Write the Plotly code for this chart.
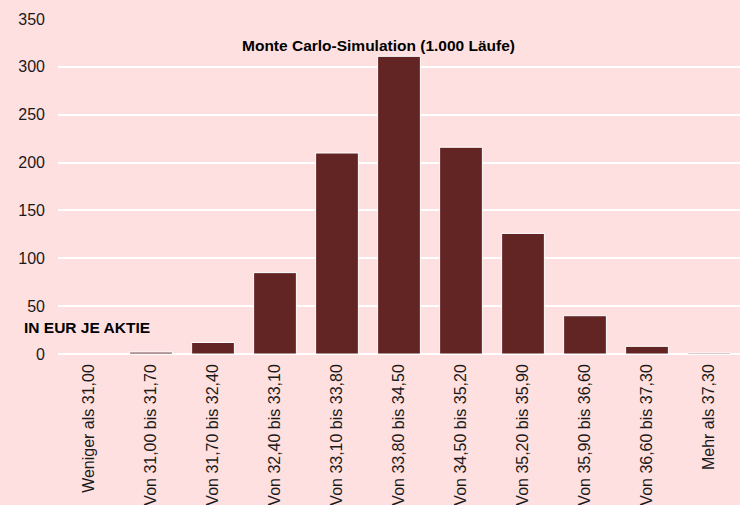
import plotly.graph_objects as go

categories = [
    "Weniger als 31,00", "Von 31,00 bis 31,70", "Von 31,70 bis 32,40",
    "Von 32,40 bis 33,10", "Von 33,10 bis 33,80", "Von 33,80 bis 34,50",
    "Von 34,50 bis 35,20", "Von 35,20 bis 35,90", "Von 35,90 bis 36,60",
    "Von 36,60 bis 37,30", "Mehr als 37,30",
]
counts = [0, 2, 12, 85, 210, 311, 216, 126, 40, 8, 1]
y_ticks = [0, 50, 100, 150, 200, 250, 300, 350]

bg = "#FFE0E0"
fig = go.Figure(go.Bar(
    x=categories, y=counts,
    marker=dict(color="#632524", line=dict(color="white", width=1)),
))
fig.update_layout(
    width=740, height=505,
    paper_bgcolor=bg, plot_bgcolor=bg,
    margin=dict(l=58, r=0, t=19, b=151),
    bargap=0.31,
    showlegend=False,
    font=dict(family="Liberation Sans, Arial, sans-serif", size=16, color="#1a1a1a"),
    xaxis=dict(tickangle=-90, showgrid=False, showline=False, ticks="",
               tickfont=dict(size=16), ticklabelstandoff=6),
    yaxis=dict(range=[0, 350], tickvals=y_ticks, showgrid=True, gridcolor="white",
               gridwidth=1.5, zeroline=True, zerolinecolor="white", zerolinewidth=1.5,
               showline=False, ticks="", ticklabelstandoff=12,
               tickfont=dict(size=16)),
    annotations=[
        dict(text="<b>Monte Carlo-Simulation (1.000 Läufe)</b>", x=0.47, y=1 - 26/335,
             xref="paper", yref="paper", showarrow=False, font=dict(size=15.5, color="black"),
             xanchor="center", yanchor="middle"),
        dict(text="<b>IN EUR JE AKTIE</b>", x=-0.053, y=27/335,
             xref="paper", yref="paper", showarrow=False, font=dict(size=15.5, color="black"),
             xanchor="left", yanchor="middle"),
    ],
)
fig.write_html("out.html", config={"displayModeBar": False},
               post_script="document.body.style.margin='0';document.body.style.background='#FFE0E0';")
